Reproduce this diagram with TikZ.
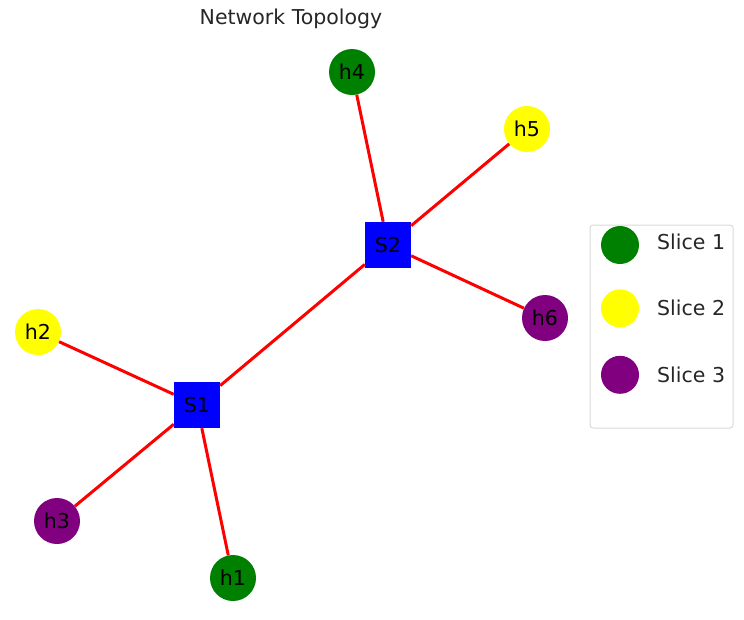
\documentclass[tikz,border=0pt]{standalone}
\usepackage{fontspec}
\setmainfont{DejaVu Sans}
\usetikzlibrary{shapes.geometric, positioning}
\definecolor{sliceone}{HTML}{008000}
\definecolor{slicetwo}{HTML}{FFFF00}
\definecolor{slicethree}{HTML}{800080}
\definecolor{legendgray}{HTML}{D9D9D9}
\tikzstyle{host} = [circle, minimum size=46pt, inner sep=0pt, text centered, font=\fontsize{20.5}{24}\selectfont]
\tikzstyle{switch} = [rectangle, minimum size=46pt, inner sep=0pt, text centered, fill=blue, font=\fontsize{20.5}{24}\selectfont]
\tikzstyle{link} = [red, line width=3pt]
\tikzstyle{marker} = [circle, minimum size=38pt, inner sep=0pt]
\tikzstyle{lbl} = [anchor=west, inner sep=0pt, text=black!85, font=\fontsize{20.5}{24}\selectfont]

\begin{document}
\begin{tikzpicture}[x=1pt, y=-1pt]
      \useasboundingbox (0,0) rectangle (744,619);
      \node (title) [text=black!85, font=\fontsize{20.5}{24}\selectfont] at (291,19) {Network Topology};

      \node (s1) [switch] at (197,405) {S1};
      \node (s2) [switch] at (388,245) {S2};

      \node (h1) [host, fill=sliceone] at (233,578) {h1};
      \node (h2) [host, fill=slicetwo] at (38,332) {h2};
      \node (h3) [host, fill=slicethree] at (57,521) {h3};
      \node (h4) [host, fill=sliceone] at (352,72) {h4};
      \node (h5) [host, fill=slicetwo] at (527,129) {h5};
      \node (h6) [host, fill=slicethree] at (545,318) {h6};

      \draw [link] (s1) -- (s2);
      \draw [link] (s1) -- (h1);
      \draw [link] (s1) -- (h2);
      \draw [link] (s1) -- (h3);
      \draw [link] (s2) -- (h4);
      \draw [link] (s2) -- (h5);
      \draw [link] (s2) -- (h6);

      % legend
      \node (legend) [rectangle, rounded corners=3pt, draw=legendgray, line width=1pt, minimum width=143pt, minimum height=203pt] at (661.5,326.5) {};
      \node (m1) [marker, fill=sliceone] at (620,245) {};
      \node (m2) [marker, fill=slicetwo, below=25pt of m1] {};
      \node (m3) [marker, fill=slicethree, below=28pt of m2] {};
      \node (l1) [lbl] at (657,242) {Slice 1};
      \node (l2) [lbl] at (657,308) {Slice 2};
      \node (l3) [lbl] at (657,375) {Slice 3};
    \end{tikzpicture}
\end{document}
